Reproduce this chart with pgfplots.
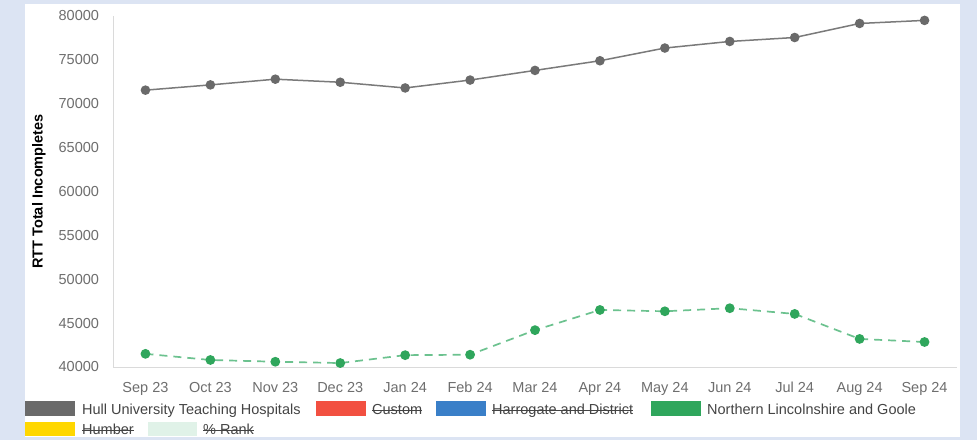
\documentclass[border=0pt]{standalone}
\usepackage{pgfplots}
\pgfplotsset{compat=1.18}
\usepackage{fontspec}
\setmainfont{Liberation Sans}

\definecolor{pagebg}{HTML}{DCE4F3}
\definecolor{hullgrey}{HTML}{6A6A6A}
\definecolor{hullline}{HTML}{7A7A7A}
\definecolor{nlggreen}{HTML}{2FA65C}
\definecolor{nlgdash}{HTML}{6CC28F}
\definecolor{customred}{HTML}{F25041}
\definecolor{harroblue}{HTML}{3A7FC8}
\definecolor{humberyellow}{HTML}{FFD700}
\definecolor{rankgreen}{HTML}{E0F2E8}
\definecolor{axisgrey}{HTML}{DADADA}
\definecolor{ticktext}{HTML}{6E6E6E}
\definecolor{legtext}{HTML}{444444}
\definecolor{labeltext}{HTML}{555555}

\begin{document}
\begin{tikzpicture}[x=1pt,y=1pt]
\fontsize{14.5}{17}\selectfont
% page and panel
\fill[pagebg] (0,0) rectangle (977,440);
\fill[white] (25,3) rectangle (960,436);

\begin{axis}[
  at={(113pt,73pt)}, anchor=south west,
  scale only axis, width=844pt, height=351pt,
  xmin=-0.5, xmax=12.5, ymin=40000, ymax=80000,
  axis x line*=bottom, axis y line*=left,
  axis line style={axisgrey, line width=1pt, -},
  major tick length=0pt,
  xtick={0,...,12},
  xticklabels={Sep 23,Oct 23,Nov 23,Dec 23,Jan 24,Feb 24,Mar 24,Apr 24,May 24,Jun 24,Jul 24,Aug 24,Sep 24},
  ytick={40000,45000,...,80000},
  scaled y ticks=false,
  /pgf/number format/fixed,
  /pgf/number format/1000 sep={},
  /pgf/number format/assume math mode=true,
  tick label style={font=\fontsize{14.5}{17}\selectfont, text=ticktext},
  xticklabel style={yshift=-10pt},
  yticklabel style={xshift=-9pt},
  ylabel={\textbf{RTT Total Incompletes}},
  ylabel style={font=\fontsize{14.5}{17}\selectfont, text=labeltext},
  every axis y label/.style={at={(rel axis cs:0,0.5)}, rotate=90, anchor=center, yshift=74pt},
  clip=false,
]
% Hull University Teaching Hospitals
\addplot[hullline, line width=1.5pt, mark=*, mark size=4pt,
  mark options={fill=hullgrey, draw=hullgrey}] coordinates {
  (0,71550) (1,72150) (2,72800) (3,72450) (4,71800) (5,72700)
  (6,73800) (7,74900) (8,76350) (9,77100) (10,77550) (11,79150) (12,79500)};
% Northern Lincolnshire and Goole
\addplot[nlgdash, line width=1.7pt, dash pattern=on 8pt off 6pt, mark=*, mark size=4pt,
  mark options={fill=nlggreen, draw=nlggreen, solid}] coordinates {
  (0,41500) (1,40800) (2,40600) (3,40450) (4,41350) (5,41400)
  (6,44200) (7,46500) (8,46350) (9,46700) (10,46050) (11,43200) (12,42850)};
\end{axis}

% legend, row 1
\fill[hullgrey] (25,24) rectangle (75,39);
\node[anchor=base west, inner sep=0, text=legtext] at (82,26) {Hull University Teaching Hospitals};
\fill[customred] (316,24) rectangle (366,39);
\node[anchor=base west, inner sep=0, text=legtext] (c) at (372,26) {Custom};
\draw[legtext, line width=0.9pt] ([yshift=4pt]c.base west) -- ([yshift=4pt]c.base east);
\fill[harroblue] (436,24) rectangle (486,39);
\node[anchor=base west, inner sep=0, text=legtext] (h) at (492,26) {Harrogate and District};
\draw[legtext, line width=0.9pt] ([yshift=4pt]h.base west) -- ([yshift=4pt]h.base east);
\fill[nlggreen] (651,24) rectangle (701,39);
\node[anchor=base west, inner sep=0, text=legtext] at (707,26) {Northern Lincolnshire and Goole};
% legend, row 2
\fill[humberyellow] (25,4) rectangle (75,18);
\node[anchor=base west, inner sep=0, text=legtext] (u) at (82,6) {Humber};
\draw[legtext, line width=0.9pt] ([yshift=4pt]u.base west) -- ([yshift=4pt]u.base east);
\fill[rankgreen] (148,4) rectangle (197,18);
\node[anchor=base west, inner sep=0, text=legtext] (r) at (203,6) {\% Rank};
\draw[legtext, line width=0.9pt] ([yshift=4pt]r.base west) -- ([yshift=4pt]r.base east);
\end{tikzpicture}
\end{document}
